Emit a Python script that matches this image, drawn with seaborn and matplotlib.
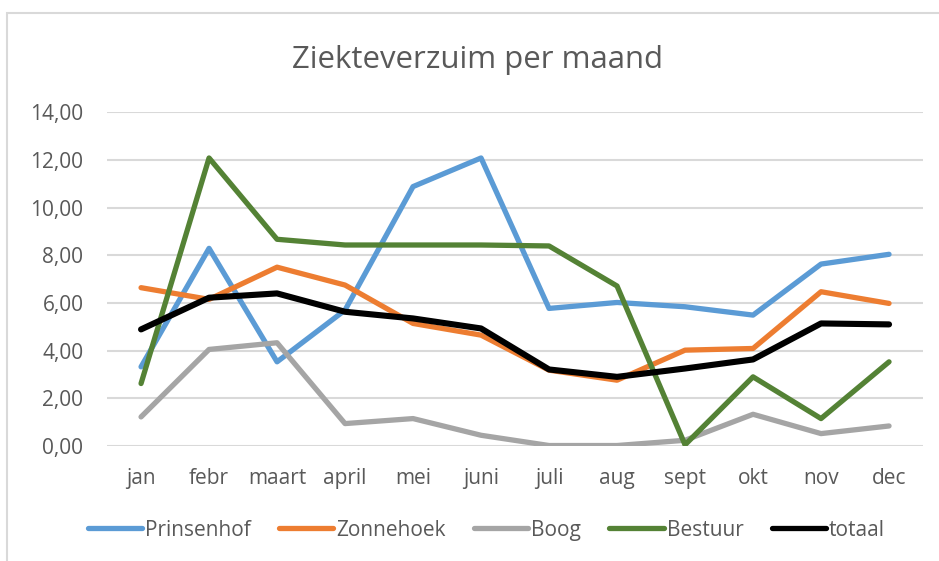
import matplotlib.pyplot as plt
import matplotlib.patches as mpatches
import pandas as pd
import seaborn as sns

months = ["jan", "febr", "maart", "april", "mei", "juni",
          "juli", "aug", "sept", "okt", "nov", "dec"]

prinsenhof = [3.32, 8.29, 3.53, 5.70, 10.88, 12.08, 5.77, 6.02, 5.84, 5.49, 7.63, 8.04]
zonnehoek = [6.64, 6.15, 7.50, 6.75, 5.14, 4.65, 3.18, 2.76, 4.02, 4.09, 6.47, 5.98]
boog = [1.22, 4.05, 4.33, 0.94, 1.15, 0.45, 0.02, 0.02, 0.24, 1.33, 0.52, 0.84]
bestuur = [2.62, 12.08, 8.67, 8.43, 8.43, 8.43, 8.39, 6.71, 0.05, 2.90, 1.15, 3.53]
totaal = [4.89, 6.22, 6.40, 5.63, 5.35, 4.93, 3.21, 2.90, 3.25, 3.63, 5.14, 5.10]

series = {
    "Prinsenhof": prinsenhof,
    "Zonnehoek": zonnehoek,
    "Boog": boog,
    "Bestuur": bestuur,
    "totaal": totaal,
}
colors = {
    "Prinsenhof": "#5B9BD5",
    "Zonnehoek": "#ED7D31",
    "Boog": "#A5A5A5",
    "Bestuur": "#548235",
    "totaal": "#000000",
}

rows = []
for name, vals in series.items():
    for i, v in enumerate(vals):
        rows.append({"maand": i, "waarde": v, "afdeling": name})
df = pd.DataFrame(rows)

sns.set_theme(style="white")
plt.rcParams["font.family"] = ["Open Sans", "DejaVu Sans"]

fig = plt.figure(figsize=(9.39, 5.61), dpi=100)
ax = fig.add_axes([0.114, 0.205, 0.869, 0.595])

sns.lineplot(
    data=df, x="maand", y="waarde", hue="afdeling",
    palette=colors, hue_order=list(series), linewidth=3.8,
    ax=ax, legend=False,
)
# totaal line a bit thicker, drawn on top
ax.lines[-1].set_linewidth(4.4)
ax.lines[-1].set_zorder(5)

ax.set_xlim(-0.5, 11.5)
ax.set_ylim(0, 14)
ax.set_yticks(range(0, 15, 2))
ax.set_yticklabels([f"{t:.2f}".replace(".", ",") for t in range(0, 15, 2)])
ax.set_xticks(range(12))
ax.set_xticklabels(months)
ax.tick_params(axis="both", length=0, labelsize=15, labelcolor="#595959")
ax.tick_params(axis="y", pad=17)
ax.tick_params(axis="x", pad=16)
ax.set_xlabel("")
ax.set_ylabel("")
ax.grid(axis="y", color="#D9D9D9", linewidth=1.5)
ax.set_axisbelow(True)
for s in ax.spines.values():
    s.set_visible(False)

fig.text(0.508, 1 - 68 / 561, "Ziekteverzuim per maand", ha="center", va="baseline",
         fontsize=22.4, color="#595959")

handles = [plt.Line2D([], [], color=colors[n], linewidth=3.8) for n in series]
fig.legend(handles, list(series), loc="center", bbox_to_anchor=(0.518, 0.055),
           ncol=5, frameon=False, fontsize=15, labelcolor="#595959",
           handlelength=2.6, handletextpad=0.15, columnspacing=1.35)

# chart border (only left and top visible in the crop)
fig.patches.append(mpatches.Rectangle(
    (7 / 939, -0.1), 1.1, 1.1 - 13 / 561, transform=fig.transFigure,
    fill=False, edgecolor="#D9D9D9", linewidth=1.5))

fig.savefig("out.png", dpi=100)
